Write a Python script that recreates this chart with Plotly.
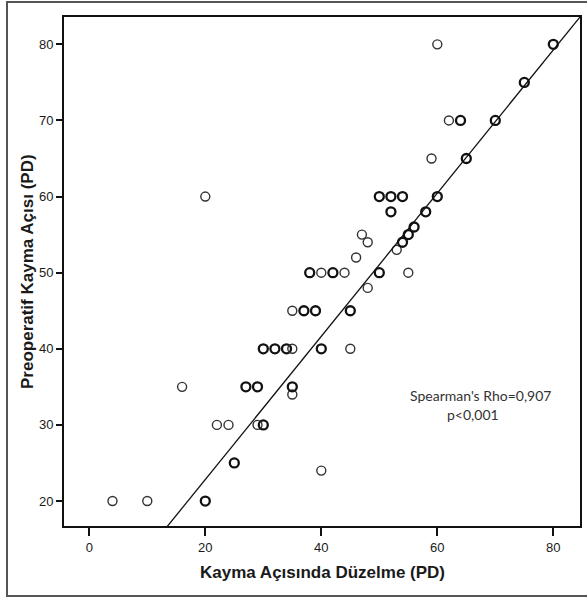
import plotly.graph_objects as go
from collections import Counter

# Data (repeated pairs = overlapping cases)
correction_pd = [4, 10, 20, 20, 40, 25, 25, 22, 24, 29, 30, 30, 35,
                 16, 27, 27, 29, 29, 35, 35,
                 30, 30, 32, 32, 34, 34, 35, 40, 40, 45,
                 35, 37, 37, 39, 39, 45, 45,
                 48, 38, 38, 40, 42, 42, 44, 50, 50, 55,
                 46, 53, 48, 54, 54, 47, 55, 55, 56, 56,
                 52, 52, 58, 58, 20, 50, 50, 52, 52, 54, 54, 60, 60,
                 59, 65, 65, 62, 64, 64, 70, 70, 75, 75, 60, 80, 80]
preop_pd = [20, 20, 20, 20, 24, 25, 25, 30, 30, 30, 30, 30, 34,
            35, 35, 35, 35, 35, 35, 35,
            40, 40, 40, 40, 40, 40, 40, 40, 40, 40,
            45, 45, 45, 45, 45, 45, 45,
            48, 50, 50, 50, 50, 50, 50, 50, 50, 50,
            52, 53, 54, 54, 54, 55, 55, 55, 56, 56,
            58, 58, 58, 58, 60, 60, 60, 60, 60, 60, 60, 60, 60,
            65, 65, 65, 70, 70, 70, 70, 70, 75, 75, 80, 80, 80]

fit_intercept = 4.02
fit_slope = 0.9405
annotation_lines = ["Spearman's Rho=0,907", "p<0,001"]
x_title = "Kayma Açısında Düzelme (PD)"
y_title = "Preoperatif Kayma Açısı (PD)"
x_ticks = [0, 20, 40, 60, 80]
y_ticks = [20, 30, 40, 50, 60, 70, 80]

x_range = [-4.36, 84.6]
y_range = [16.72, 83.59]

counts = Counter(zip(correction_pd, preop_pd))
pts = list(counts.keys())
px = [p[0] for p in pts]
py = [p[1] for p in pts]
lw = [2.3 if counts[p] > 1 else 1.4 for p in pts]
lc = ["#111111" if counts[p] > 1 else "#333333" for p in pts]

fig = go.Figure()
fig.add_trace(go.Scatter(
    x=px, y=py, mode="markers",
    marker=dict(symbol="circle-open", size=9, color=lc,
                line=dict(width=lw, color=lc)),
    showlegend=False, hoverinfo="x+y"))

fx = [x_range[0], x_range[1]]
fy = [fit_intercept + fit_slope * v for v in fx]
fig.add_trace(go.Scatter(x=fx, y=fy, mode="lines",
                         line=dict(color="#111111", width=1.3),
                         showlegend=False, hoverinfo="skip"))

# invisible trace on the outer frame axes
fig.add_trace(go.Scatter(x=[0.5], y=[0.5], xaxis="x2", yaxis="y2", mode="markers",
                         marker=dict(opacity=0), showlegend=False, hoverinfo="skip"))

# paper region: x 8..587 px, y 3..595 px
W, H, L, T = 579.0, 592.0, 8.0, 3.0
def pxx(v):
    return (v - L) / W
def pxy(v):
    return (T + H - v) / H

tick_font = dict(family="Liberation Sans, Arial", size=13, color="#1a1a1a")
axis_common = dict(showgrid=False, zeroline=False, showline=True, mirror=True,
                   linecolor="#111111", linewidth=1.8, ticks="outside",
                   tickcolor="#111111", tickfont=tick_font, automargin=False)

fig.update_layout(
    xaxis=dict(range=x_range, tickvals=x_ticks, ticklen=8, tickwidth=2,
               domain=[pxx(64), pxx(580)], anchor="y", **axis_common),
    yaxis=dict(range=y_range, tickvals=y_ticks, ticklen=6, tickwidth=1.5,
               domain=[pxy(526), pxy(17)], anchor="x", **axis_common),
    xaxis2=dict(domain=[0, 1], anchor="y2", range=[0, 1], showline=True, mirror=True,
                linecolor="#555555", linewidth=1.6, showgrid=False, zeroline=False,
                showticklabels=False, ticks="", fixedrange=True),
    yaxis2=dict(domain=[0, 1], anchor="x2", range=[0, 1], showline=True, mirror=False,
                linecolor="#555555", linewidth=1.6, showgrid=False, zeroline=False,
                showticklabels=False, ticks="", fixedrange=True),
)

fig.add_annotation(xref="paper", yref="paper", x=pxx(322), y=pxy(572),
                   xanchor="center", yanchor="middle",
                   text="<b>" + x_title + "</b>", showarrow=False,
                   font=dict(family="Liberation Sans, Arial", size=17, color="#1a1a1a"))
fig.add_annotation(xref="paper", yref="paper", x=pxx(27), y=pxy(272),
                   xanchor="center", yanchor="middle",
                   text="<b>" + y_title + "</b>", showarrow=False, textangle=-90,
                   font=dict(family="Liberation Sans, Arial", size=17, color="#1a1a1a"))

fig.add_annotation(x=67.5, y=33.8, xref="x", yref="y", text=annotation_lines[0],
                   xanchor="center", yanchor="middle",
                   showarrow=False, font=dict(family="Lato, Noto Sans", size=14, color="#333333"))
fig.add_annotation(x=66.1, y=31.4, xref="x", yref="y", text=annotation_lines[1],
                   xanchor="center", yanchor="middle",
                   showarrow=False, font=dict(family="Lato, Noto Sans", size=14, color="#333333"))

fig.update_layout(width=587, height=597,
                  margin=dict(l=8, r=0, t=3, b=2, autoexpand=False),
                  plot_bgcolor="rgba(0,0,0,0)", paper_bgcolor="white")

fig.write_html("out.html", config={"displayModeBar": False},
               post_script="document.body.style.margin='0';document.body.style.overflow='hidden';")
